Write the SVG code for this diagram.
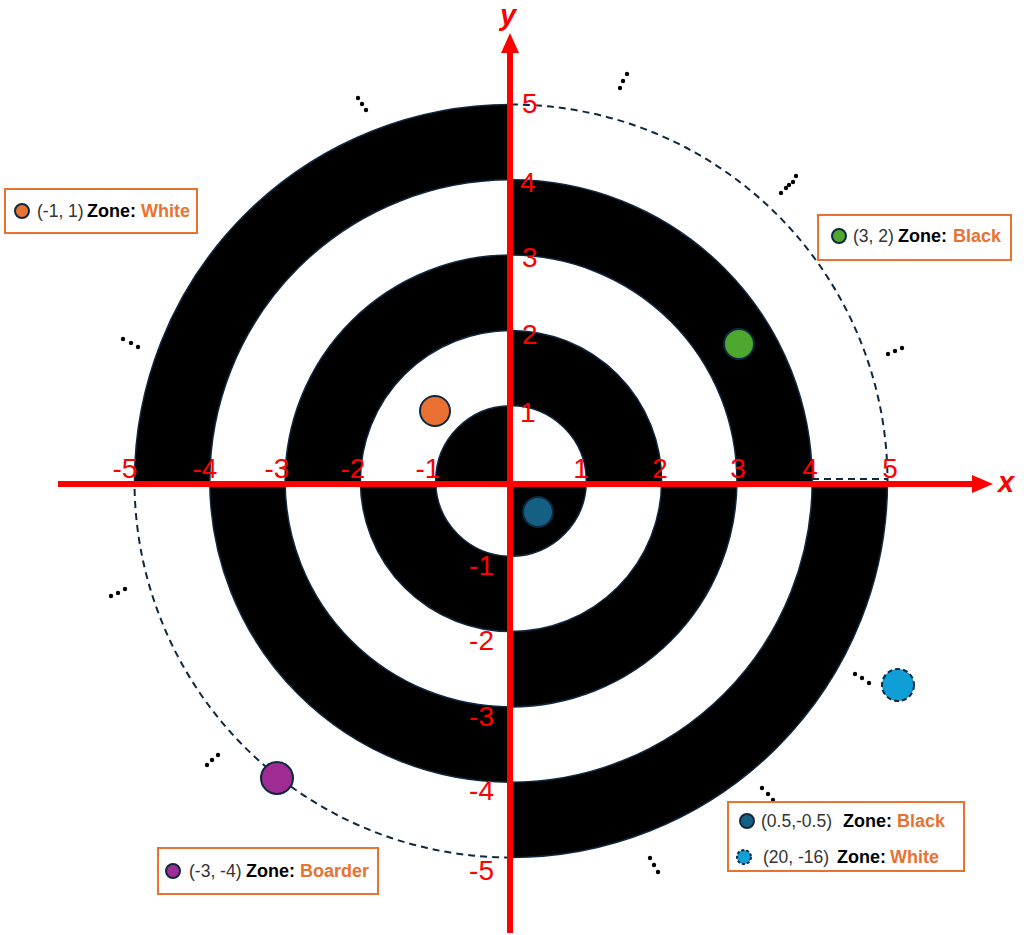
<svg xmlns="http://www.w3.org/2000/svg" width="1024" height="935" viewBox="0 0 1024 935">
<style>
.blk{fill:#000}
.wht{fill:#fff}
.ring{fill:none;stroke:#0E2841;stroke-width:1.5}
.dash{fill:none;stroke:#0E2841;stroke-width:2;stroke-dasharray:7 5}
.axis{stroke:#FF0000;stroke-width:6}
.tick{font-family:"Liberation Sans",Arial,sans-serif;font-size:28px;fill:#FF0000}
.axl{font-family:"Liberation Sans",Arial,sans-serif;font-size:29px;font-weight:bold;font-style:italic;fill:#FF0000}
.dot{fill:#000}
.box{fill:#fff;stroke:#E97132;stroke-width:2}
.lt{font-family:"Liberation Sans",Arial,sans-serif;font-size:17.5px;fill:#333}
.lz{font-weight:bold;fill:#000;font-size:18px}
.lv{font-weight:bold;fill:#E97132;font-size:18px}
.pt{stroke:#0E2841;stroke-width:2}
</style>
<rect width="1024" height="935" fill="#fff"/>
<g id="target">
<path class="blk" d="M511,481 L134.5,481 A376.5,376.5 0 0 1 511,104.5 Z M511,481 L887.5,481 A376.5,376.5 0 0 1 511,857.5 Z"/>
<path class="wht" d="M511,481 L209.8,481 A301.2,301.2 0 0 1 511,179.8 Z M511,481 L812.2,481 A301.2,301.2 0 0 1 511,782.2 Z"/>
<path class="blk" d="M511,481 L285.1,481 A225.9,225.9 0 0 1 511,255.1 Z M511,481 L736.9,481 A225.9,225.9 0 0 1 511,706.9 Z"/>
<path class="wht" d="M511,481 L360.4,481 A150.6,150.6 0 0 1 511,330.4 Z M511,481 L661.6,481 A150.6,150.6 0 0 1 511,631.6 Z"/>
<path class="blk" d="M511,481 L435.7,481 A75.3,75.3 0 0 1 511,405.7 Z M511,481 L586.3,481 A75.3,75.3 0 0 1 511,556.3 Z"/>
<path class="blk" d="M511,481 L511,179.8 A301.2,301.2 0 0 1 812.2,481 Z M511,481 L511,782.2 A301.2,301.2 0 0 1 209.8,481 Z"/>
<path class="wht" d="M511,481 L511,255.1 A225.9,225.9 0 0 1 736.9,481 Z M511,481 L511,706.9 A225.9,225.9 0 0 1 285.1,481 Z"/>
<path class="blk" d="M511,481 L511,330.4 A150.6,150.6 0 0 1 661.6,481 Z M511,481 L511,631.6 A150.6,150.6 0 0 1 360.4,481 Z"/>
<path class="wht" d="M511,481 L511,405.7 A75.3,75.3 0 0 1 586.3,481 Z M511,481 L511,556.3 A75.3,75.3 0 0 1 435.7,481 Z"/>
<circle class="ring" cx="511" cy="481" r="75.3"/>
<circle class="ring" cx="511" cy="481" r="150.6"/>
<circle class="ring" cx="511" cy="481" r="225.9"/>
<circle class="ring" cx="511" cy="481" r="301.2"/>
<path class="ring" d="M134.5,481 A376.5,376.5 0 0 1 511,104.5 M887.5,481 A376.5,376.5 0 0 1 511,857.5"/>
<path class="dash" d="M511,104.5 A376.5,376.5 0 0 1 887.5,481 M511,857.5 A376.5,376.5 0 0 1 134.5,481"/>
<line class="dash" x1="812" y1="479" x2="887" y2="479"/>
</g>
<g id="dots">
<circle class="dot" cx="358" cy="98" r="2.2"/><circle class="dot" cx="362" cy="104" r="2.2"/><circle class="dot" cx="366" cy="110" r="2.2"/>
<circle class="dot" cx="627" cy="74" r="2.2"/><circle class="dot" cx="623" cy="81" r="2.2"/><circle class="dot" cx="620" cy="88" r="2.2"/>
<circle class="dot" cx="796" cy="176" r="2.2"/><circle class="dot" cx="793" cy="182" r="2.2"/><circle class="dot" cx="789" cy="185" r="2.2"/><circle class="dot" cx="786" cy="188" r="2.2"/><circle class="dot" cx="781" cy="193" r="2.2"/>
<circle class="dot" cx="888" cy="354" r="2.2"/><circle class="dot" cx="895" cy="351" r="2.2"/><circle class="dot" cx="902" cy="348" r="2.2"/>
<circle class="dot" cx="123" cy="339" r="2.2"/><circle class="dot" cx="131" cy="343" r="2.2"/><circle class="dot" cx="138" cy="347" r="2.2"/>
<circle class="dot" cx="111" cy="596" r="2.2"/><circle class="dot" cx="118" cy="593" r="2.2"/><circle class="dot" cx="125" cy="589" r="2.2"/>
<circle class="dot" cx="207" cy="765" r="2.2"/><circle class="dot" cx="212" cy="760" r="2.2"/><circle class="dot" cx="218" cy="755" r="2.2"/>
<circle class="dot" cx="347" cy="856" r="2.2"/><circle class="dot" cx="345" cy="863" r="2.2"/><circle class="dot" cx="341" cy="870" r="2.2"/>
<circle class="dot" cx="650" cy="858" r="2.2"/><circle class="dot" cx="654" cy="865" r="2.2"/><circle class="dot" cx="658" cy="872" r="2.2"/>
<circle class="dot" cx="762" cy="788" r="2.2"/><circle class="dot" cx="768" cy="794" r="2.2"/><circle class="dot" cx="773" cy="800" r="2.2"/>
<circle class="dot" cx="855" cy="674" r="2.2"/><circle class="dot" cx="862" cy="678" r="2.2"/><circle class="dot" cx="869" cy="683" r="2.2"/>
</g>
<g id="axes">
<line class="axis" x1="58" y1="484" x2="975" y2="484"/>
<polygon points="972,475 993,484 972,493" fill="#FF0000"/>
<line class="axis" x1="510" y1="933" x2="510" y2="50"/>
<polygon points="501,53 510,33 519,53" fill="#FF0000"/>
<text class="axl" x="998" y="492">x</text>
<text class="axl" x="500" y="25" font-size="27">y</text>
<text class="tick" x="522" y="113">5</text>
<text class="tick" x="520" y="192">4</text>
<text class="tick" x="522" y="267">3</text>
<text class="tick" x="522" y="344">2</text>
<text class="tick" x="520" y="422">1</text>
<text class="tick" x="494" y="575" text-anchor="end">-1</text>
<text class="tick" x="494" y="650" text-anchor="end">-2</text>
<text class="tick" x="494" y="726" text-anchor="end">-3</text>
<text class="tick" x="494" y="800" text-anchor="end">-4</text>
<text class="tick" x="494" y="880" text-anchor="end">-5</text>
<text class="tick" x="125" y="478" text-anchor="middle">-5</text>
<text class="tick" x="205" y="478" text-anchor="middle">-4</text>
<text class="tick" x="277" y="478" text-anchor="middle">-3</text>
<text class="tick" x="353" y="478" text-anchor="middle">-2</text>
<text class="tick" x="428" y="478" text-anchor="middle">-1</text>
<text class="tick" x="581" y="478" text-anchor="middle">1</text>
<text class="tick" x="660" y="478" text-anchor="middle">2</text>
<text class="tick" x="738" y="478" text-anchor="middle">3</text>
<text class="tick" x="810" y="478" text-anchor="middle">4</text>
<text class="tick" x="890" y="478" text-anchor="middle">5</text>
</g>
<g id="points">
<circle class="pt" cx="435" cy="411" r="15" fill="#E97132"/>
<circle class="pt" cx="739" cy="344" r="15" fill="#4EA72E"/>
<circle class="pt" cx="538" cy="512" r="15" fill="#156082"/>
<circle class="pt" cx="898" cy="685" r="16" fill="#0F9ED5" stroke-dasharray="5 3"/>
<circle class="pt" cx="277" cy="778" r="16" fill="#A02B93"/>
</g>
<g id="legend1">
<rect class="box" x="5" y="189" width="192" height="44"/>
<circle class="pt" cx="22" cy="211" r="7" fill="#E97132"/>
<text class="lt" y="217"><tspan x="37">(-1, 1)</tspan><tspan class="lz" x="87">Zone:</tspan><tspan class="lv" x="141">White</tspan></text>
</g>
<g id="legend2">
<rect class="box" x="818" y="215" width="193" height="45"/>
<circle class="pt" cx="839" cy="236" r="7" fill="#4EA72E"/>
<text class="lt" y="242"><tspan x="853">(3, 2)</tspan><tspan class="lz" x="898">Zone:</tspan><tspan class="lv" x="953">Black</tspan></text>
</g>
<g id="legend3">
<rect class="box" x="158" y="848" width="220" height="46"/>
<circle class="pt" cx="173" cy="871" r="7" fill="#A02B93"/>
<text class="lt" y="877"><tspan x="189">(-3, -4)</tspan><tspan class="lz" x="246">Zone:</tspan><tspan class="lv" x="300">Boarder</tspan></text>
</g>
<g id="legend4">
<rect class="box" x="728" y="802" width="236" height="69"/>
<circle class="pt" cx="747" cy="821" r="7" fill="#156082"/>
<text class="lt" y="827"><tspan x="761">(0.5,-0.5)</tspan><tspan class="lz" x="843">Zone:</tspan><tspan class="lv" x="897" font-size="19.5">Black</tspan></text>
<circle class="pt" cx="744" cy="857" r="7" fill="#0F9ED5" stroke-dasharray="3 2"/>
<text class="lt" y="863"><tspan x="763">(20, -16)</tspan><tspan class="lz" x="837">Zone:</tspan><tspan class="lv" x="890" font-size="19.5">White</tspan></text>
</g>
</svg>
